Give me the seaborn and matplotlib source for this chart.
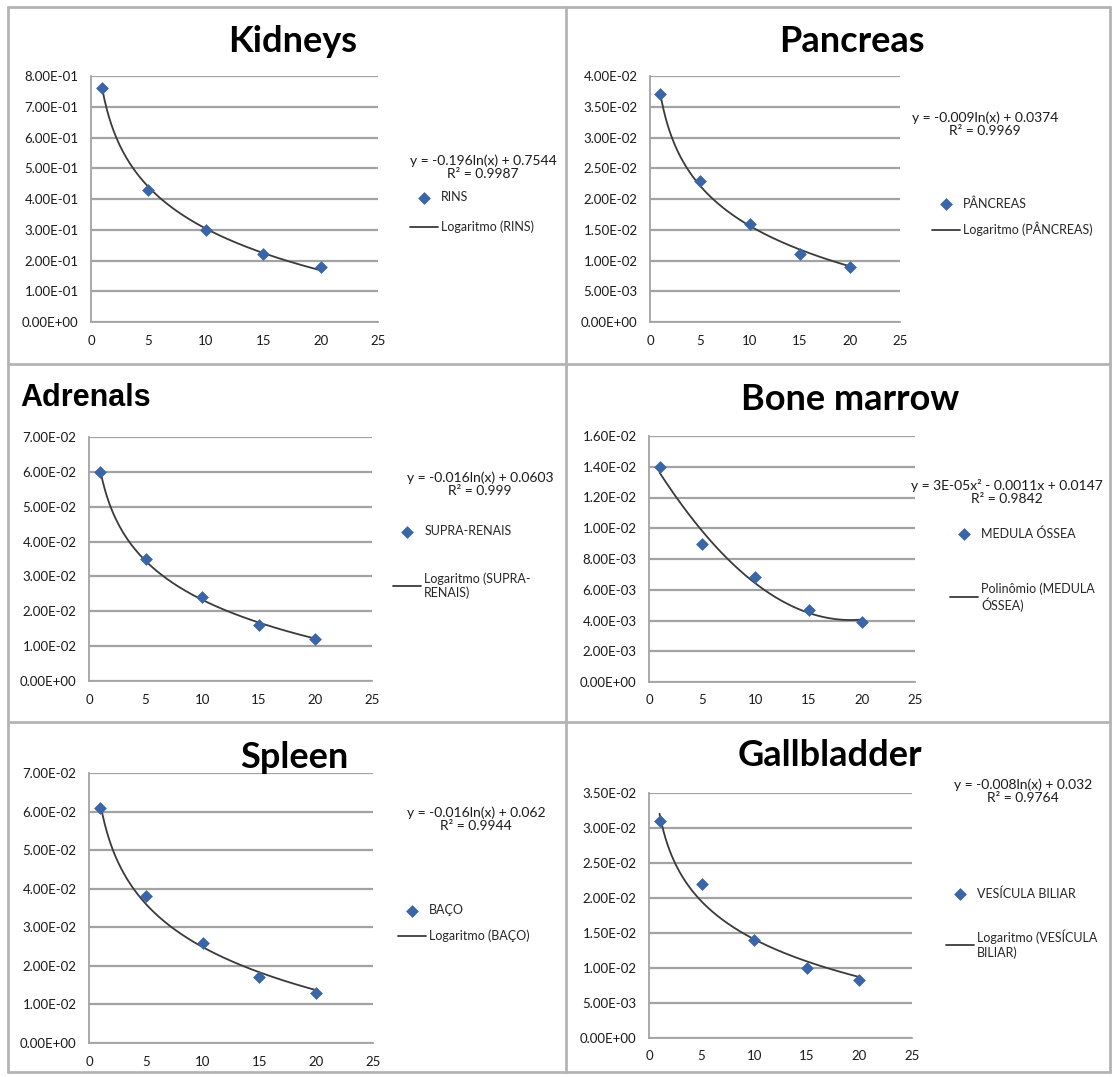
# ============================================
# Trend lines per organ (6 panels, Excel style)
# ============================================

import numpy as np
import matplotlib
matplotlib.use("Agg")
import matplotlib.pyplot as plt
import seaborn as sns
from matplotlib.lines import Line2D
from matplotlib.ticker import FuncFormatter, MultipleLocator

# --------------------------------------------
# Data
# --------------------------------------------

x_values = [1, 5, 10, 15, 20]

kidneys = [0.76, 0.43, 0.30, 0.22, 0.18]
pancreas = [0.037, 0.023, 0.016, 0.011, 0.009]
adrenals = [0.060, 0.035, 0.024, 0.016, 0.012]
bone_marrow = [0.0140, 0.0090, 0.0068, 0.0047, 0.0039]
spleen = [0.061, 0.038, 0.026, 0.017, 0.013]
gallbladder = [0.031, 0.022, 0.014, 0.010, 0.0083]

titles = ["Kidneys", "Pancreas", "Adrenals", "Bone marrow", "Spleen", "Gallbladder"]
series_names = ["RINS", "PÂNCREAS", "SUPRA-RENAIS", "MEDULA ÓSSEA", "BAÇO", "VESÍCULA BILIAR"]
trend_names = ["Logaritmo (RINS)", "Logaritmo (PÂNCREAS)", "Logaritmo (SUPRA-\nRENAIS)",
               "Polinômio (MEDULA\nÓSSEA)", "Logaritmo (BAÇO)", "Logaritmo (VESÍCULA\nBILIAR)"]
trend_types = ["log", "log", "log", "poly", "log", "log"]
equations = [
    "y = -0.196ln(x) + 0.7544\nR² = 0.9987",
    "y = -0.009ln(x) + 0.0374\nR² = 0.9969",
    "y = -0.016ln(x) + 0.0603\nR² = 0.999",
    "y = 3E-05x² - 0.0011x + 0.0147\nR² = 0.9842",
    "y = -0.016ln(x) + 0.062\nR² = 0.9944",
    "y = -0.008ln(x) + 0.032\nR² = 0.9764",
]
y_max = [0.8, 0.04, 0.07, 0.016, 0.07, 0.035]
y_step = [0.1, 0.005, 0.01, 0.002, 0.01, 0.005]

values = [kidneys, pancreas, adrenals, bone_marrow, spleen, gallbladder]

# --------------------------------------------
# Layout (pixels of the 1115 x 1077 picture)
# --------------------------------------------

W, H = 1115, 1077

# plot area: left, right, top, bottom
plot_box = [
    (91, 378, 76, 322),
    (650, 900, 76, 322),
    (89, 372, 437, 681),
    (649, 915, 436, 682),
    (89, 373, 773, 1043),
    (649, 912, 793, 1038),
]
# title: x, y, horizontal alignment, font, size
title_pos = [
    (293, 42, "center", "Lato", 26),
    (852, 42, "center", "Lato", 26),
    (20, 398, "left", "Liberation Sans", 22),
    (850, 400, "center", "Lato", 26),
    (294, 757, "center", "Lato", 26),
    (830, 756, "center", "Lato", 26),
]
eq_pos = [(483, 167), (985, 124), (480, 484), (1007, 492), (476, 819), (1023, 791)]
# legend: left of handle, top of first row, row spacing
legend_pos = [(410, 191, 1.4), (932, 197, 1.0), (393, 525, 2.8),
              (950, 527, 3.4), (398, 904, 1.1), (946, 887, 2.4)]

GRID = "#A3A3A3"
BLUE = "#3A66A7"
LINE = "#3A3A3A"


def sci(v, pos):
    return "{:.2E}".format(v)


# --------------------------------------------
# Plot
# --------------------------------------------

sns.set_style("white")
plt.rcParams["font.family"] = ["Lato", "DejaVu Sans"]

fig = plt.figure(figsize=(W / 100, H / 100), dpi=100)

for i in range(6):
    l, r, t, b = plot_box[i]
    ax = fig.add_axes([l / W, 1 - b / H, (r - l) / W, (b - t) / H])

    y = np.array(values[i])
    x = np.array(x_values, dtype=float)
    xs = np.linspace(x.min(), x.max(), 200)
    if trend_types[i] == "log":
        coef = np.polyfit(np.log(x), y, 1)
        fit = np.polyval(coef, np.log(xs))
    else:
        coef = np.polyfit(x, y, 2)
        fit = np.polyval(coef, xs)

    sns.scatterplot(x=x, y=y, ax=ax, marker="D", s=36, color=BLUE,
                    edgecolor=BLUE, linewidth=0.5, zorder=3, label=series_names[i])
    sns.lineplot(x=xs, y=fit, ax=ax, color=LINE, linewidth=1.3, zorder=2,
                 label=trend_names[i])

    ax.set_xlim(0, 25)
    ax.set_ylim(0, y_max[i])
    ax.xaxis.set_major_locator(MultipleLocator(5))
    ax.yaxis.set_major_locator(MultipleLocator(y_step[i]))
    ax.yaxis.set_major_formatter(FuncFormatter(sci))
    ax.yaxis.grid(True, color=GRID, linewidth=1.6)
    ax.xaxis.grid(False)
    ax.set_axisbelow(True)

    for side in ["top", "right"]:
        ax.spines[side].set_visible(False)
    for side in ["left", "bottom"]:
        ax.spines[side].set_color(GRID)
        ax.spines[side].set_linewidth(1.3)

    ax.tick_params(axis="both", direction="out", length=4, width=1.2, color=GRID,
                   labelsize=9.5, labelcolor="#1a1a1a")
    ax.tick_params(axis="y", pad=5)
    ax.tick_params(axis="x", pad=5)
    ax.set_xlabel("")
    ax.set_ylabel("")

    # legend on the right side
    lx, ly, ls = legend_pos[i]
    ax.legend(loc="upper left", bbox_to_anchor=(lx / W, 1 - ly / H),
              bbox_transform=fig.transFigure, frameon=False, fontsize=9,
              handlelength=2.2, handletextpad=0.3, labelspacing=ls,
              borderpad=0, borderaxespad=0, scatterpoints=1)

    # title and equation
    tx, ty, ha, fam, size = title_pos[i]
    fig.text(tx / W, 1 - ty / H, titles[i], ha=ha, va="center", color="black",
             fontsize=size, fontweight="bold", family=[fam, "DejaVu Sans"])
    ex, ey = eq_pos[i]
    fig.text(ex / W, 1 - ey / H, equations[i], ha="center", va="center",
             fontsize=10, color="#1a1a1a", linespacing=1.1)

# --------------------------------------------
# Panel borders
# --------------------------------------------

BORDER = "#B4B4B4"
borders = [
    ((8, 1110), (7, 7)),
    ((8, 1110), (1072, 1072)),
    ((8, 8), (7, 1072)),
    ((1110, 1110), (7, 1072)),
    ((566, 566), (7, 1072)),
    ((8, 1110), (364, 364)),
    ((8, 1110), (722, 722)),
]
for xs_px, ys_px in borders:
    fig.add_artist(Line2D([v / W for v in xs_px], [1 - v / H for v in ys_px],
                          color=BORDER, linewidth=2))

fig.savefig("out.png", dpi=100, facecolor="white")
